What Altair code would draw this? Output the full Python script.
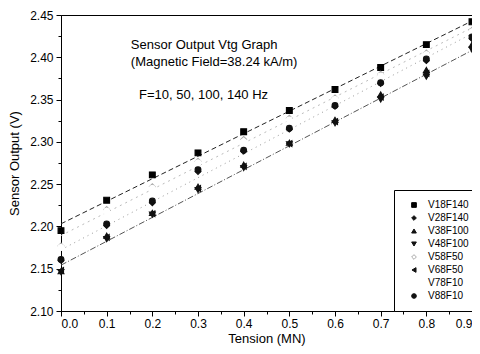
import altair as alt
import pandas as pd

tension = [0.0, 0.1, 0.2, 0.3, 0.4, 0.5, 0.6, 0.7, 0.8, 0.9]

series_names = ["V18F140", "V28F140", "V38F100", "V48F100",
                "V58F50", "V68F50", "V78F10", "V88F10"]

v18f140 = [2.195, 2.231, 2.261, 2.287, 2.312, 2.337, 2.362, 2.388, 2.415, 2.442]
v28f140 = [2.160, 2.201, 2.228, 2.265, 2.289, 2.315, 2.342, 2.369, 2.396, 2.422]
v38f100 = [2.147, 2.189, 2.216, 2.247, 2.273, 2.299, 2.326, 2.356, 2.385, 2.415]
v48f100 = [2.146, 2.185, 2.214, 2.243, 2.269, 2.297, 2.322, 2.350, 2.377, 2.409]
v58f50 = [2.177, 2.220, 2.247, 2.277, 2.303, 2.328, 2.352, 2.380, 2.405, 2.432]
v68f50 = [2.148, 2.187, 2.215, 2.245, 2.271, 2.298, 2.324, 2.353, 2.381, 2.412]
v78f10 = [2.175, 2.218, 2.245, 2.275, 2.300, 2.326, 2.350, 2.378, 2.403, 2.430]
v88f10 = [2.161, 2.203, 2.230, 2.267, 2.290, 2.316, 2.343, 2.370, 2.398, 2.424]

all_series = [v18f140, v28f140, v38f100, v48f100, v58f50, v68f50, v78f10, v88f10]

shapes = ["square", "diamond", "triangle-up", "triangle-down",
          "diamond", "triangle-left", "circle", "circle"]
colors = ["#000000", "#111111", "#111111", "#111111",
          "#aaaaaa", "#111111", "#ffffff", "#111111"]
fills = ["#000000", "#111111", "#111111", "#111111",
         "#ffffff", "#111111", "#ffffff", "#111111"]

rows = []
for name, vals in zip(series_names, all_series):
    for t, v in zip(tension, vals):
        rows.append({"Tension": t, "Output": v, "Series": name})
df = pd.DataFrame(rows)

FONT = "Liberation Sans"

x_major = "abs(datum.value*10 - round(datum.value*10)) < 0.001"
y_major = "abs(datum.value*20 - round(datum.value*20)) < 0.001"

x_scale = alt.Scale(domain=[0, 0.9], nice=False, zero=False)
y_scale = alt.Scale(domain=[2.10, 2.45], nice=False, zero=False)

x_enc = alt.X(
    "Tension:Q",
    scale=x_scale,
    axis=alt.Axis(
        title="Tension  (MN)",
        values=[round(i * 0.05, 2) for i in range(19)],
        labelExpr=f"{x_major} ? format(datum.value, '.1f') : ''",
        tickSize={"condition": {"test": x_major, "value": 5}, "value": 3},
        grid=False, domainColor="#000", tickColor="#000",
        labelFont=FONT, labelFontSize=12, labelColor="#000",
        titleFont=FONT, titleFontSize=13, titleFontWeight="normal",
        titleColor="#000", titlePadding=3, labelPadding=2,
    ),
)
y_enc = alt.Y(
    "Output:Q",
    scale=y_scale,
    axis=alt.Axis(
        title="Sensor Output (V)",
        values=[round(2.10 + i * 0.025, 3) for i in range(15)],
        labelExpr=f"{y_major} ? format(datum.value, '.2f') : ''",
        tickSize={"condition": {"test": y_major, "value": 5}, "value": 3},
        grid=False, domainColor="#000", tickColor="#000",
        labelFont=FONT, labelFontSize=12, labelColor="#000",
        titleFont=FONT, titleFontSize=13, titleFontWeight="normal",
        titleColor="#000", titlePadding=8, labelPadding=3,
    ),
)

legend = alt.Legend(
    title=None, orient="none", legendX=333, legendY=175,
    labelFont=FONT, labelFontSize=10, labelColor="#000",
    symbolSize=22, rowPadding=3, padding=10,
    symbolOffset=5, labelOffset=9,
    strokeColor="#000", fillColor="#fff", symbolStrokeWidth=1,
)

points = alt.Chart(df).mark_point(size=34, filled=False, strokeWidth=1.1, opacity=1).encode(
    x=x_enc,
    y=y_enc,
    shape=alt.Shape("Series:N", scale=alt.Scale(domain=series_names, range=shapes),
                    sort=series_names, legend=legend),
    color=alt.Color("Series:N", scale=alt.Scale(domain=series_names, range=colors),
                    sort=series_names, legend=legend),
    fill=alt.Fill("Series:N", scale=alt.Scale(domain=series_names, range=fills),
                  sort=series_names, legend=legend),
)

def fit(name, color, dash):
    return alt.Chart(df).transform_filter(
        alt.datum.Series == name
    ).transform_regression("Tension", "Output").mark_line(
        color=color, strokeDash=dash, strokeWidth=1
    ).encode(x=x_enc, y=y_enc)

lines = [
    fit("V18F140", "#222222", [5, 3]),
    fit("V58F50", "#bbbbbb", [2, 4]),
    fit("V88F10", "#999999", [1, 4]),
    fit("V48F100", "#555555", [6, 2, 1, 2]),
]

ann = pd.DataFrame({
    "Tension": [0.153, 0.153, 0.171],
    "Output": [2.4146, 2.3946, 2.3557],
    "label": ["Sensor Output Vtg Graph", "(Magnetic Field=38.24 kA/m)",
              "F=10, 50, 100, 140 Hz"],
})
text = alt.Chart(ann).mark_text(
    align="left", baseline="middle", font=FONT, fontSize=13, color="#000"
).encode(x=x_enc, y=y_enc, text="label:N")

chart = alt.layer(*lines, points, text).properties(
    width=411, height=296,
    autosize=alt.AutoSizeParams(type="none"),
    padding={"left": 53, "top": 7, "right": 0, "bottom": 42},
).configure_view(stroke="#000", strokeWidth=1).configure_axis(domainWidth=1)

chart.save("out.html", embed_options={"renderer": "svg", "actions": False})
